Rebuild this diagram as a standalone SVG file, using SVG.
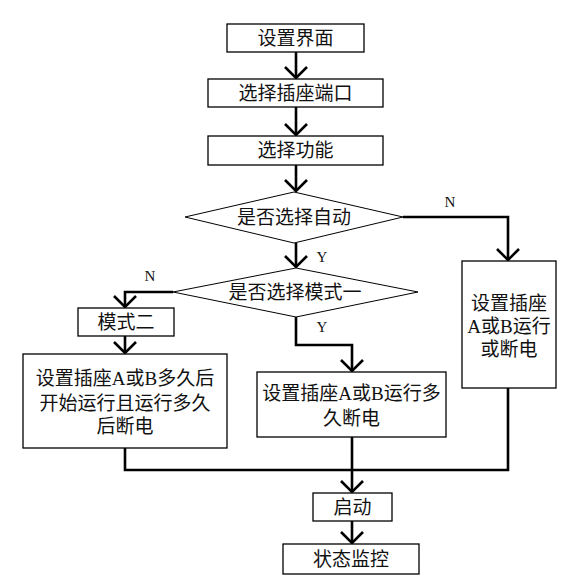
<svg xmlns="http://www.w3.org/2000/svg" width="573" height="586" viewBox="0 0 573 586">
<defs>
<style>
.box{fill:#fff;stroke:#000;stroke-width:1.3}
.dia{fill:#fff;stroke:#000;stroke-width:1}
.t{font-family:"Liberation Serif","Noto Sans CJK SC",serif;font-size:19px;fill:#111;text-anchor:middle}
.l{font-family:"Liberation Serif",serif;font-size:15px;fill:#111;text-anchor:middle}
.c{fill:none;stroke:#000;stroke-width:2.6}
</style>
<marker id="ah" viewBox="-14 -14 16 28" refX="0" refY="0" markerWidth="16" markerHeight="28" markerUnits="userSpaceOnUse" orient="auto">
<path d="M-11,-11 L0,0 L-11,11" fill="none" stroke="#000" stroke-width="2.6"/>
</marker>
</defs>
<rect width="573" height="586" fill="#fff"/>
<g id="connectors">
<line class="c" x1="296" y1="52" x2="296" y2="78" marker-end="url(#ah)"/>
<line class="c" x1="296" y1="107" x2="296" y2="135" marker-end="url(#ah)"/>
<line class="c" x1="296" y1="165" x2="296" y2="191" marker-end="url(#ah)"/>
<line class="c" x1="296" y1="243" x2="296" y2="267" marker-end="url(#ah)"/>
<polyline class="c" points="403,217 508,217 508,260" marker-end="url(#ah)"/>
<polyline class="c" points="173,292 125,292 125,307" marker-end="url(#ah)"/>
<line class="c" x1="125" y1="336" x2="125" y2="353" marker-end="url(#ah)"/>
<polyline class="c" points="296,317 296,345 352,345 352,371" marker-end="url(#ah)"/>
<polyline class="c" points="125,448 125,470 508,470 508,388"/>
<line class="c" x1="352" y1="437" x2="352" y2="470"/>
<line class="c" x1="352" y1="470" x2="352" y2="492" marker-end="url(#ah)"/>
<line class="c" x1="352" y1="521" x2="352" y2="543" marker-end="url(#ah)"/>
<text class="l" x="450" y="207">N</text>
<text class="l" x="322" y="262">Y</text>
<text class="l" x="150" y="281">N</text>
<text class="l" x="322" y="332">Y</text>
</g>
<g id="n1"><rect class="box" x="227" y="24" width="137" height="28"/><text class="t" x="295.5" y="45">设置界面</text></g>
<g id="n2"><rect class="box" x="208" y="79" width="175" height="28"/><text class="t" x="295.5" y="100">选择插座端口</text></g>
<g id="n3"><rect class="box" x="208" y="136" width="175" height="29"/><text class="t" x="295.5" y="157">选择功能</text></g>
<g id="d1"><polygon class="dia" points="294,192 403,217 294,243 185,217"/><text class="t" x="294" y="224">是否选择自动</text></g>
<g id="d2"><polygon class="dia" points="296,268 418,292 296,317 173,292"/><text class="t" x="295" y="299">是否选择模式一</text></g>
<g id="n4"><rect class="box" x="78" y="308" width="96" height="28"/><text class="t" x="126" y="329">模式二</text></g>
<g id="n5"><rect class="box" x="23" y="354" width="204" height="94"/>
<text class="t" x="125" y="385">设置插座A或B多久后</text>
<text class="t" x="125" y="410">开始运行且运行多久</text>
<text class="t" x="125" y="433">后断电</text></g>
<g id="n6"><rect class="box" x="257" y="372" width="189" height="65"/>
<text class="t" x="351.5" y="400">设置插座A或B运行多</text>
<text class="t" x="351.5" y="425">久断电</text></g>
<g id="n7"><rect class="box" x="462" y="261" width="94" height="127"/>
<text class="t" x="509" y="310">设置插座</text>
<text class="t" x="509" y="333">A或B运行</text>
<text class="t" x="509" y="356">或断电</text></g>
<g id="n8"><rect class="box" x="313" y="493" width="79" height="28"/><text class="t" x="352.5" y="514">启动</text></g>
<g id="n9"><rect class="box" x="283" y="544" width="136" height="30"/><text class="t" x="351" y="566">状态监控</text></g>
</svg>
